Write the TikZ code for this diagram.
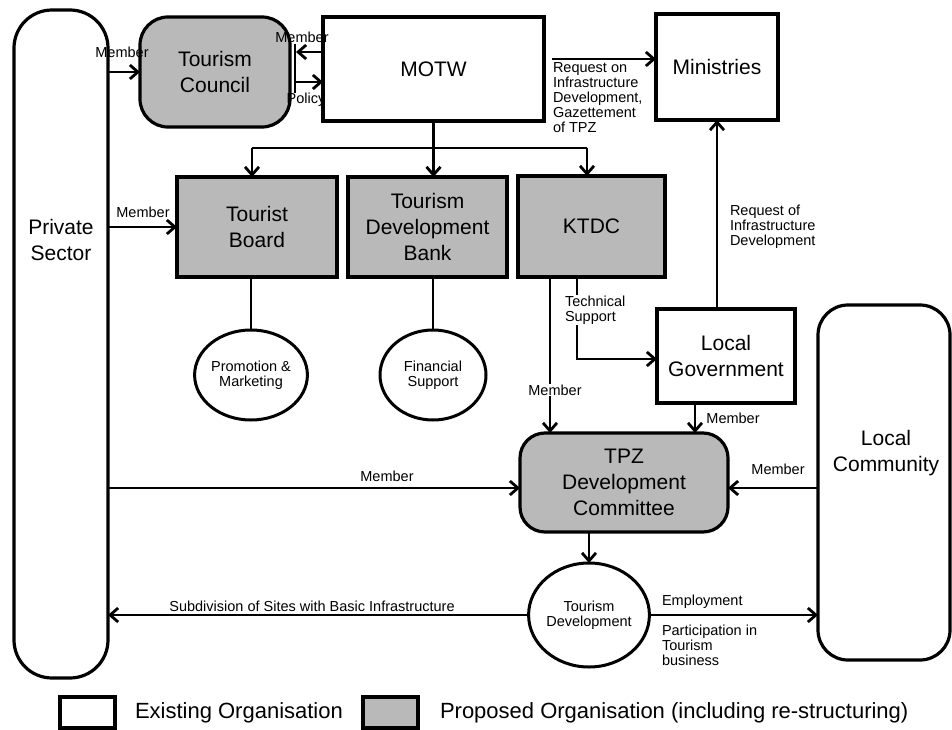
\documentclass[tikz,border=0pt]{standalone}
\usepackage{fontspec}
\setmainfont{Liberation Sans}
\usetikzlibrary{arrows.meta,shapes.geometric}
\begin{document}
\begin{tikzpicture}[x=1pt,y=-1pt,
  every node/.style={inner sep=0pt, outer sep=0pt},
  boxline/.style={line width=3.2pt},
  existing/.style={draw, boxline, fill=white, align=center, font=\fontsize{21}{26}\selectfont},
  proposed/.style={draw, boxline, fill=gray!55, align=center, font=\fontsize{21}{26}\selectfont},
  oval/.style={draw, ellipse, line width=3pt, fill=white, align=center, font=\fontsize{14.5}{15}\selectfont},
  big/.style={font=\fontsize{21}{26}\selectfont, align=center},
  small/.style={font=\fontsize{14.5}{15}\selectfont, align=left},
  conn/.style={line width=2.8pt, -{Straight Barb[length=8pt,width=14pt]}},
  plain/.style={line width=2.8pt},
]
\useasboundingbox (0,0) rectangle (952,730);

% organisations
\node[existing, rounded corners=38pt, minimum width=94pt, minimum height=668pt] (ps) at (61,344) {};
\node[big] (pst) at (61,240) {Private\\Sector};
\node[proposed, rounded corners=28pt, minimum width=150pt, minimum height=110pt] (tc) at (215,72) {Tourism\\Council};
\node[existing, minimum width=221pt, minimum height=104pt] (motw) at (433.5,69) {MOTW};
\node[existing, minimum width=122pt, minimum height=106pt] (min) at (717,67) {Ministries};
\node[proposed, minimum width=160pt, minimum height=100pt] (tb) at (257,227) {Tourist\\Board};
\node[proposed, minimum width=159pt, minimum height=100pt] (tdb) at (427.5,227) {Tourism\\Development\\Bank};
\node[proposed, minimum width=147pt, minimum height=101pt] (ktdc) at (591.5,226.5) {KTDC};
\node[existing, minimum width=138pt, minimum height=94pt] (lg) at (726,356) {Local\\Government};
\node[proposed, rounded corners=25pt, minimum width=208pt, minimum height=99pt] (tpz) at (624,482.5) {TPZ\\Development\\Committee};
\node[existing, rounded corners=30pt, minimum width=132pt, minimum height=355pt] (lc) at (884,482.5) {};
\node[big] (lct) at (886,453) {Local\\Community};

\node[oval, minimum width=112pt, minimum height=90pt] (pm) at (251,375) {Promotion \&\\Marketing};
\node[oval, minimum width=106pt, minimum height=90pt] (fs) at (433,375) {Financial\\Support};
\node[oval, minimum width=118pt, minimum height=104pt] (td) at (589,615) {Tourism\\Development};

% private sector -> tourism council
\draw[conn] (ps.east |- tc.west) -- (tc.west);
\node[small] (l1) at (122,52) {Member};

% MOTW <-> tourism council
\coordinate (bt) at (295,44);
\coordinate (bb) at (295,93);
\coordinate (mA) at (296,52);
\coordinate (pA) at (296,82);
\draw[plain] (bt) -- (bb);
\draw[conn] (motw.west |- mA) -- (mA);
\draw[conn] (pA) -- (motw.west |- pA);
\node[small] (l2) at (302,37) {Member};
\node[small] (l3) at (306,100) {Policy};

% MOTW -> Ministries
\coordinate (rq) at (0,59);
\draw[conn, shorten <=8pt] (motw.east |- rq) -- (min.west |- rq);
\node[small, anchor=north west] (l4) at (553,63) {Request on\\Infrastructure\\Development,\\Gazettement\\of TPZ};

% MOTW -> boards
\coordinate (d1) at (252,148);
\coordinate (d3) at (587,148);
\draw[plain] (d1) -- (d3);
\draw[conn] (motw.south) -- (motw.south |- tdb.north);
\draw[conn] (d1) -- (d1 |- tb.north);
\draw[conn] (d3) -- (d3 |- ktdc.north);

% private sector -> tourist board
\draw[conn] (ps.east |- tb.west) -- (tb.west);
\node[small] (l5) at (143,212) {Member};

% boards -> ovals
\draw[plain] (pm.north |- tb.south) -- (pm.north);
\draw[plain] (fs.north |- tdb.south) -- (fs.north);

% KTDC -> TPZ
\coordinate (k1) at (550,0);
\draw[conn] (k1 |- ktdc.south) -- (k1 |- tpz.north);
\node[small, fill=white, inner sep=1pt] (l6) at (555,390) {Member};

% KTDC -> Local Government
\coordinate (t1) at (577,359);
\draw[conn] (t1 |- ktdc.south) -- (t1) -- (lg.west |- t1);
\node[small, anchor=west, fill=white, inner sep=1pt] (l7) at (564,310) {Technical\\Support};

% Local Government -> Ministries
\draw[conn] (min.south |- lg.north) -- (min.south);
\node[small, anchor=north west] (l8) at (730,205) {Request of\\Infrastructure\\Development};

% Local Government -> TPZ
\coordinate (g1) at (695,0);
\draw[conn] (g1 |- lg.south) -- (g1 |- tpz.north);
\node[small] (l9) at (733,418) {Member};

% private sector -> TPZ, local community -> TPZ
\coordinate (m2) at (0,488);
\draw[conn] (ps.east |- m2) -- (tpz.west |- m2);
\node[small] (l10) at (387,476) {Member};
\draw[conn] (lc.west |- m2) -- (tpz.east |- m2);
\node[small] (l11) at (778,469) {Member};

% TPZ -> tourism development
\draw[conn] (td.north |- tpz.south) -- (td.north);

% tourism development -> private sector / local community
\draw[conn] (td.west) -- (ps.east |- td.west);
\node[small] (l12) at (312,606) {Subdivision of Sites with Basic Infrastructure};
\draw[conn] (td.east) -- (lc.west |- td.east);
\node[small, anchor=west] (l13) at (662,602) {Employment};
\node[small, anchor=north west] (l14) at (662,625) {Participation in\\Tourism\\business};

% legend
\node[draw, boxline, fill=white, minimum width=55pt, minimum height=31pt] (lex) at (87.5,712.5) {};
\node[font=\fontsize{22}{26}\selectfont, anchor=west] (lext) at (135,713) {Existing Organisation};
\node[draw, boxline, fill=gray!55, minimum width=55pt, minimum height=31pt] (lpr) at (390.5,712.5) {};
\node[font=\fontsize{22}{26}\selectfont, anchor=west] (lprt) at (440,713) {Proposed Organisation (including re-structuring)};
\end{tikzpicture}
\end{document}
